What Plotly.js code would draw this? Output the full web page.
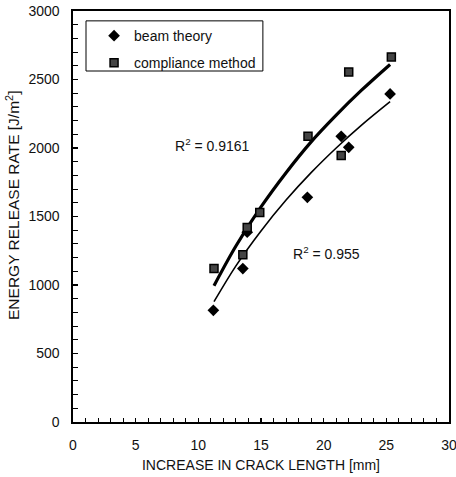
<!DOCTYPE html>
<html>
<head>
<meta charset="utf-8">
<script src="https://cdn.plot.ly/plotly-3.0.1.min.js"></script>
<style>html,body{margin:0;padding:0;background:#fff;}#chart{width:456px;height:477px;}</style>
</head>
<body>
<div id="chart"></div>
<script>
// Measured points
var beamX = [11.2, 13.55, 13.9, 18.7, 21.4, 22.0, 25.3];
var beamY = [815, 1120, 1385, 1640, 2085, 2005, 2395];
var compX = [11.25, 13.55, 13.9, 14.9, 18.75, 21.4, 22.0, 25.4];
var compY = [1120, 1220, 1420, 1530, 2085, 1945, 2555, 2665];
// Trend lines
var fitX = [11.25, 13, 15, 17, 19, 21, 23, 25.3];
var compFitY = [995, 1285, 1570, 1820, 2045, 2240, 2420, 2610];
var beamFitY = [878, 1140, 1395, 1620, 1820, 2000, 2165, 2338];
var r2Labels = ["R<sup>2</sup> = 0.9161", "R<sup>2</sup> = 0.955"];
var seriesNames = ["beam theory", "compliance method"];
var xTitle = "INCREASE IN CRACK LENGTH [mm]";
var yTitle = "ENERGY RELEASE RATE [J/m<sup>2</sup>]";
// Tick positions (every 1 mm / 100 J/m2) and their labels
var xTickVals = [0,1,2,3,4,5,6,7,8,9,10,11,12,13,14,15,16,17,18,19,20,21,22,23,24,25,26,27,28,29,30];
var xTickText = ["0","","","","","5","","","","","10","","","","","15","","","","","20","","","","","25","","","","","30"];
var yTickVals = [0,100,200,300,400,500,600,700,800,900,1000,1100,1200,1300,1400,1500,1600,1700,1800,1900,2000,2100,2200,2300,2400,2500,2600,2700,2800,2900,3000];
var yTickText = ["0","","","","","500","","","","","1000","","","","","1500","","","","","2000","","","","","2500","","","","","3000"];

var font = {family: "Liberation Sans, Arial, sans-serif", size: 14, color: "#111"};

var traces = [
  {x: fitX, y: compFitY, mode: "lines", line: {color: "#000", width: 3.2, shape: "spline"}, showlegend: false, hoverinfo: "skip"},
  {x: fitX, y: beamFitY, mode: "lines", line: {color: "#000", width: 1.6, shape: "spline"}, showlegend: false, hoverinfo: "skip"},
  {x: beamX, y: beamY, mode: "markers", name: seriesNames[0], legendgroup: "a",
   marker: {symbol: "diamond", size: 9, color: "#000"}},
  {x: compX, y: compY, mode: "markers", name: seriesNames[1], legendgroup: "b",
   marker: {symbol: "square", size: 8, color: "#444", line: {color: "#000", width: 1.5}}}
];

var layout = {
  width: 456, height: 477,
  margin: {l: 73, r: 7, t: 11, b: 55},
  paper_bgcolor: "#fff", plot_bgcolor: "#fff",
  font: font,
  showlegend: true,
  legend: {x: 0.056, y: 0.978, xanchor: "left", yanchor: "top",
    borderwidth: 0, bgcolor: "rgba(0,0,0,0)",
    font: font, tracegroupgap: 6, itemwidth: 30},
  xaxis: {
    range: [0, 30], tickmode: "array", tickvals: xTickVals, ticktext: xTickText,
    showgrid: false, zeroline: false,
    showline: true, linecolor: "#000", linewidth: 1.6, mirror: true,
    ticks: "inside", ticklen: 4, tickwidth: 1.1, tickcolor: "#000",
    ticklabelstandoff: 10, ticklabeloverflow: "allow",
    title: {text: xTitle, font: font, standoff: 8}
  },
  yaxis: {
    range: [0, 3000], tickmode: "array", tickvals: yTickVals, ticktext: yTickText,
    showgrid: false, zeroline: false,
    showline: true, linecolor: "#000", linewidth: 1.6, mirror: true,
    ticks: "inside", ticklen: 5, tickwidth: 1.1, tickcolor: "#000",
    ticklabelstandoff: 9
  },
  shapes: [
    {type: "rect", xref: "paper", yref: "paper", x0: 0.0346, x1: 0.505, y0: 0.854, y1: 0.976,
     line: {color: "#000", width: 1}, fillcolor: "#fff", layer: "below"}
  ],
  annotations: [
    {x: 11.1, y: 2025, xref: "x", yref: "y", text: r2Labels[0], showarrow: false, font: font},
    {x: 20.2, y: 1235, xref: "x", yref: "y", text: r2Labels[1], showarrow: false, font: font},
    {x: -0.1596, y: 0.528, xref: "paper", yref: "paper", xanchor: "center", yanchor: "middle",
     text: yTitle, textangle: -90,
     showarrow: false, font: {family: font.family, size: 15.5, color: "#111"}}
  ]
};

Plotly.newPlot("chart", traces, layout, {displayModeBar: false, staticPlot: true});
</script>
</body>
</html>
